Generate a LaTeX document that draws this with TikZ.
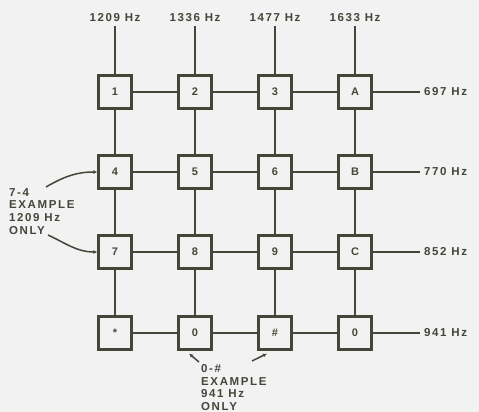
\documentclass[tikz,border=0pt]{standalone}
\usepackage{fontspec}
\usepackage{tikz}
\usetikzlibrary{arrows.meta,positioning,calc}
\newfontfamily\padfont[LetterSpace=14]{Liberation Sans}
\definecolor{paper}{HTML}{F2F2F2}
\definecolor{ink}{HTML}{45453A}

\begin{document}
\begin{tikzpicture}[x=1pt,y=-1pt,
    keybox/.style={draw=ink,line width=2.2pt,fill=paper,minimum size=33pt,inner sep=0pt,
      font=\padfont\bfseries\fontsize{11}{13}\selectfont,text=ink},
    freq/.style={font=\padfont\bfseries\fontsize{11.5}{12.8}\selectfont,text=ink,inner sep=4pt},
    wire/.style={ink,line width=1.5pt}]
    \fill[paper] (0,0) rectangle (479,412);
    % keys
    \node[keybox] (k1) at (115,92) {1};
    \node[keybox] (k2) at (195,92) {2};
    \node[keybox] (k3) at (275,92) {3};
    \node[keybox] (kA) at (355,92) {A};
    \node[keybox] (k4) at (115,172) {4};
    \node[keybox] (k5) at (195,172) {5};
    \node[keybox] (k6) at (275,172) {6};
    \node[keybox] (kB) at (355,172) {B};
    \node[keybox] (k7) at (115,252) {7};
    \node[keybox] (k8) at (195,252) {8};
    \node[keybox] (k9) at (275,252) {9};
    \node[keybox] (kC) at (355,252) {C};
    \node[keybox] (kStar) at (115,333) {*};
    \node[keybox] (k0) at (195,333) {0};
    \node[keybox] (kHash) at (275,333) {\#};
    \node[keybox] (kD) at (355,333) {0};
    % column tones
    \node[freq] (c1) at (115,18) {1209 Hz};
    \node[freq] (c2) at (195,18) {1336 Hz};
    \node[freq] (c3) at (275,18) {1477 Hz};
    \node[freq] (c4) at (355,18) {1633 Hz};
    \draw[wire] (c1) -- (k1) -- (k4) -- (k7) -- (kStar);
    \draw[wire] (c2) -- (k2) -- (k5) -- (k8) -- (k0);
    \draw[wire] (c3) -- (k3) -- (k6) -- (k9) -- (kHash);
    \draw[wire] (c4) -- (kA) -- (kB) -- (kC) -- (kD);
    % row tones
    \node[freq,anchor=west] (r1) at (420,92) {697 Hz};
    \node[freq,anchor=west] (r2) at (420,172) {770 Hz};
    \node[freq,anchor=west] (r3) at (420,252) {852 Hz};
    \node[freq,anchor=west] (r4) at (420,333) {941 Hz};
    \draw[wire] (k1) -- (k2) -- (k3) -- (kA) -- (r1);
    \draw[wire] (k4) -- (k5) -- (k6) -- (kB) -- (r2);
    \draw[wire] (k7) -- (k8) -- (k9) -- (kC) -- (r3);
    \draw[wire] (kStar) -- (k0) -- (kHash) -- (kD) -- (r4);
    % notes
    \node[freq,align=left,anchor=north west,inner sep=0pt] (note74) at (9,188) {7-4\\EXAMPLE\\1209 Hz\\ONLY};
    \coordinate (from74a) at (46,187);
    \coordinate (from74b) at (48,235);
    \draw[wire,-{Latex[length=4pt,width=4pt]}] (from74a) to[out=30,in=180] (k4.west);
    \draw[wire,-{Latex[length=4pt,width=4pt]}] (from74b) to[out=-25,in=180] (k7.west);
    \node[freq,align=left,anchor=north west,inner sep=0pt] (note0h) at (201,364) {0-\#\\EXAMPLE\\941 Hz\\ONLY};
    \coordinate (from0) at (199,362);
    \coordinate (fromh) at (252,361);
    \draw[wire,-{Latex[length=4pt,width=4pt]}] (from0) -- ($(k0.south)+(-6,3)$);
    \draw[wire,-{Latex[length=4pt,width=4pt]}] (fromh) -- ($(kHash.south)+(-8,3)$);
  \end{tikzpicture}
\end{document}
